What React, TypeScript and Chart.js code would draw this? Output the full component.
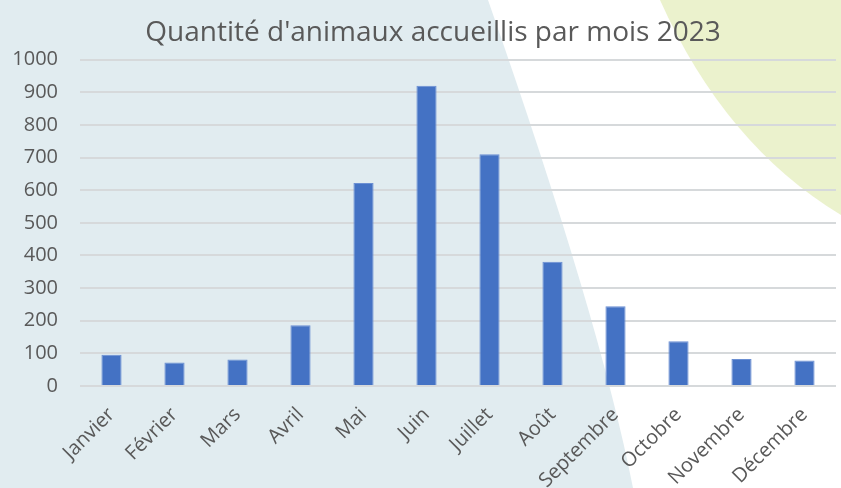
import React, { useEffect, useRef } from "react";
import { Chart, registerables } from "chart.js";

Chart.register(...registerables);

const months = ["Janvier", "Février", "Mars", "Avril", "Mai", "Juin", "Juillet", "Août", "Septembre", "Octobre", "Novembre", "Décembre"];
const animals = [96, 72, 81, 186, 622, 920, 710, 381, 244, 137, 83, 78];
const titleText = "Quantité d'animaux accueillis par mois 2023";

const bgPlugin = {
  id: "bgShapes",
  afterLayout(chart: any) {
    const tb = chart.titleBlock;
    if (tb) {
      tb.left += 10;
      tb.right += 10;
    }
  },
  beforeDraw(chart: any) {
    const ctx = chart.ctx;
    const w = chart.width;
    const h = chart.height;
    ctx.save();
    ctx.fillStyle = "#e1ecf0";
    ctx.fillRect(0, 0, w, h);
    // white wedge
    ctx.fillStyle = "#ffffff";
    ctx.beginPath();
    ctx.moveTo(488, 0);
    ctx.quadraticCurveTo(600, 320, 633, h);
    ctx.lineTo(w, h);
    ctx.lineTo(w, 0);
    ctx.closePath();
    ctx.fill();
    // yellow corner
    ctx.fillStyle = "#ebf2cd";
    ctx.beginPath();
    ctx.moveTo(660, 0);
    ctx.quadraticCurveTo(725, 145, w, 215);
    ctx.lineTo(w, 0);
    ctx.closePath();
    ctx.fill();
    ctx.restore();
  },
};

export default function App() {
  const ref = useRef<HTMLCanvasElement | null>(null);
  useEffect(() => {
    if (!ref.current) return;
    const chart = new Chart(ref.current, {
      type: "bar",
      data: {
        labels: months,
        datasets: [
          {
            data: animals,
            backgroundColor: "#4472c4",
            borderColor: "#6b8fd3",
            borderWidth: 1,
            barPercentage: 0.32,
            categoryPercentage: 1,
          },
        ],
      },
      options: {
        animation: false,
        responsive: false,
        layout: { padding: { left: 10, right: 5, top: 0, bottom: 0 } },
        plugins: {
          legend: { display: false },
          tooltip: { enabled: false },
          title: {
            display: true,
            text: titleText,
            color: "#595959",
            font: { family: "Open Sans", size: 28, weight: "normal" },
            padding: { top: 16, bottom: 10 },
          },
        },
        scales: {
          x: {
            grid: { display: false, drawTicks: false },
            border: { display: false },
            ticks: {
              color: "#595959",
              font: { family: "Open Sans", size: 20 },
              minRotation: 45,
              maxRotation: 45,
              autoSkip: false,
              padding: 17,
            },
            afterFit: (scale: any) => {
              scale.height = 102;
            },
          },
          y: {
            min: 0,
            max: 1000,
            ticks: {
              stepSize: 100,
              color: "#595959",
              font: { family: "Open Sans", size: 20 },
              padding: 22,
              callback: (v: any) => String(v),
            },
            grid: { color: "#d6d9db", lineWidth: 2, drawTicks: false },
            border: { display: false },
            afterFit: (scale: any) => {
              scale.width = 70;
            },
          },
        },
      },
      plugins: [bgPlugin],
    });
    return () => chart.destroy();
  }, []);
  return (
    <div style={{ position: "absolute", left: 0, top: 0, width: 841, height: 488 }}>
      <canvas ref={ref} width={841} height={488} />
    </div>
  );
}
